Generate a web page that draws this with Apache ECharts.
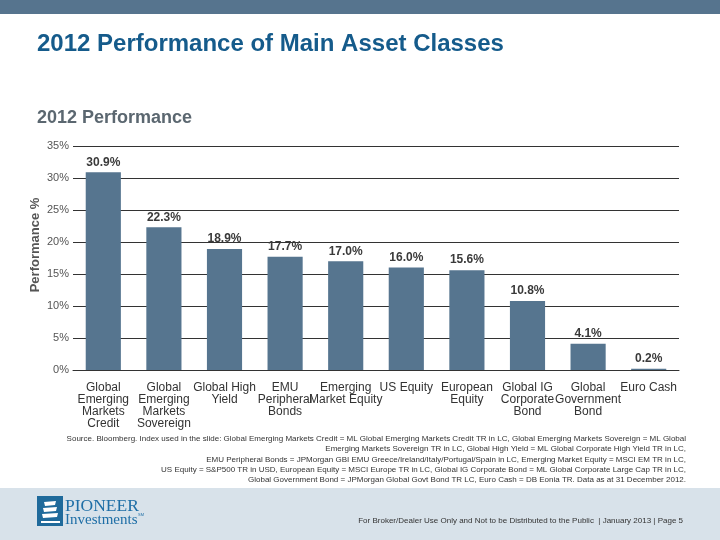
<!DOCTYPE html>
<html>
<head>
<meta charset="utf-8">
<script src="https://cdn.jsdelivr.net/npm/echarts@6/dist/echarts.min.js"></script>
<style>html,body{margin:0;padding:0;background:#fff}#c{width:720px;height:540px}</style>
</head>
<body>
<div id="c"></div>
<script>
var categories = [
  "Global\nEmerging\nMarkets\nCredit",
  "Global\nEmerging\nMarkets\nSovereign",
  "Global High\nYield",
  "EMU\nPeripheral\nBonds",
  "Emerging\nMarket Equity",
  "US Equity",
  "European\nEquity",
  "Global IG\nCorporate\nBond",
  "Global\nGovernment\nBond",
  "Euro Cash"
];
var performance = [30.9, 22.3, 18.9, 17.7, 17.0, 16.0, 15.6, 10.8, 4.1, 0.2];
var yTicks = { min: 0, max: 35, interval: 5 };
var titleText = "2012 Performance of Main Asset Classes";
var subtitleText = "2012 Performance";
var yAxisTitle = "Performance %";
var sourceLines = [
  "Source. Bloomberg. Index used in the slide: Global Emerging Markets Credit = ML Global Emerging Markets Credit TR in LC, Global Emerging Markets Sovereign = ML Global",
  "Emerging Markets Sovereign TR in LC, Global High Yield = ML Global Corporate High Yield TR in LC,",
  "EMU Peripheral Bonds = JPMorgan GBI EMU Greece/Ireland/Italy/Portugal/Spain in LC, Emerging Market Equity = MSCI EM TR in LC,",
  "US Equity = S&P500 TR in USD, European Equity = MSCI Europe TR in LC, Global IG Corporate Bond = ML Global Corporate Large Cap TR in LC,",
  "Global Government Bond = JPMorgan Global Govt Bond TR LC, Euro Cash = DB Eonia TR. Data as at 31 December 2012."
];
var footerText = "For Broker/Dealer Use Only and Not to be Distributed to the Public  | January 2013 | Page 5";

var chart = echarts.init(document.getElementById('c'));
var graphics = [
  { type: 'rect', shape: { x: 0, y: 0, width: 720, height: 14 }, style: { fill: '#56748e' }, z: 0 },
  { type: 'rect', shape: { x: 0, y: 488, width: 720, height: 52 }, style: { fill: '#d8e2ea' }, z: 0 },
  { type: 'text', x: 37, y: 44, style: { text: titleText, font: 'bold 24px "Liberation Sans", Arial, sans-serif', fill: '#155b8b', textVerticalAlign: 'middle' } },
  { type: 'text', x: 37, y: 118, style: { text: subtitleText, font: 'bold 18px "Liberation Sans", Arial, sans-serif', fill: '#5b6770', textVerticalAlign: 'middle' } },
  { type: 'text', x: 35, y: 245, rotation: Math.PI / 2, style: { text: yAxisTitle, font: 'bold 13px "Liberation Sans", Arial, sans-serif', fill: '#555', textAlign: 'center', textVerticalAlign: 'middle' } },
  { type: 'text', x: 683, y: 521, style: { text: footerText, font: '8px "Liberation Sans", Arial, sans-serif', fill: '#333', textAlign: 'right', textVerticalAlign: 'middle' } },
  // logo
  { type: 'rect', shape: { x: 37, y: 496, width: 26, height: 30 }, style: { fill: '#1f6a9b' } },
  { type: 'polygon', shape: { points: [[44,502],[56,501],[55,505],[45,506]] }, style: { fill: '#fff' } },
  { type: 'polygon', shape: { points: [[43,508],[57,507],[56,511],[44,512]] }, style: { fill: '#fff' } },
  { type: 'polygon', shape: { points: [[42,514],[58,513],[57,517],[43,518]] }, style: { fill: '#fff' } },
  { type: 'rect', shape: { x: 41, y: 521, width: 19, height: 2 }, style: { fill: '#fff' } },
  { type: 'text', x: 65, y: 506, style: { text: 'PIONEER', font: '17.5px "Liberation Serif", "DejaVu Serif", serif', fill: '#1e6ea6', textVerticalAlign: 'middle' } },
  { type: 'text', x: 65, y: 520, style: { text: 'Investments', font: '15px "Liberation Serif", "DejaVu Serif", serif', fill: '#1e6ea6', textVerticalAlign: 'middle' } },
  { type: 'text', x: 138, y: 515, style: { text: 'SM', font: '4px "Liberation Sans", sans-serif', fill: '#1e6ea6', textVerticalAlign: 'middle' } }
];
for (var i = 0; i < sourceLines.length; i++) {
  graphics.push({ type: 'text', x: 686, y: 439 + i * 10.2, style: { text: sourceLines[i], font: '8px "Liberation Sans", Arial, sans-serif', fill: '#333', textAlign: 'right', textVerticalAlign: 'middle' } });
}

chart.setOption({
  animation: false,
  grid: { left: 73, right: 41, top: 146, bottom: 170 },
  xAxis: {
    type: 'category',
    data: categories,
    axisLine: { show: true, lineStyle: { color: '#333', width: 1 } },
    axisTick: { show: false },
    axisLabel: { interval: 0, fontSize: 12, lineHeight: 12, color: '#333', margin: 12, fontFamily: '"Liberation Sans", Arial, sans-serif' }
  },
  yAxis: {
    type: 'value',
    min: yTicks.min, max: yTicks.max, interval: yTicks.interval,
    axisLine: { show: false },
    axisTick: { show: false },
    axisLabel: { formatter: '{value}%', fontSize: 11, color: '#555', margin: 4, fontFamily: '"Liberation Sans", Arial, sans-serif' },
    splitLine: { lineStyle: { color: '#333', width: 1 } }
  },
  series: [{
    type: 'bar',
    data: performance,
    barWidth: '58%',
    itemStyle: { color: '#56758f' },
    label: {
      show: true, position: 'top', distance: 4,
      formatter: function (p) { return p.value.toFixed(1) + '%'; },
      fontSize: 12, fontWeight: 'bold', color: '#3a3a3a', fontFamily: '"Liberation Sans", Arial, sans-serif'
    }
  }],
  graphic: graphics
});
</script>
</body>
</html>
